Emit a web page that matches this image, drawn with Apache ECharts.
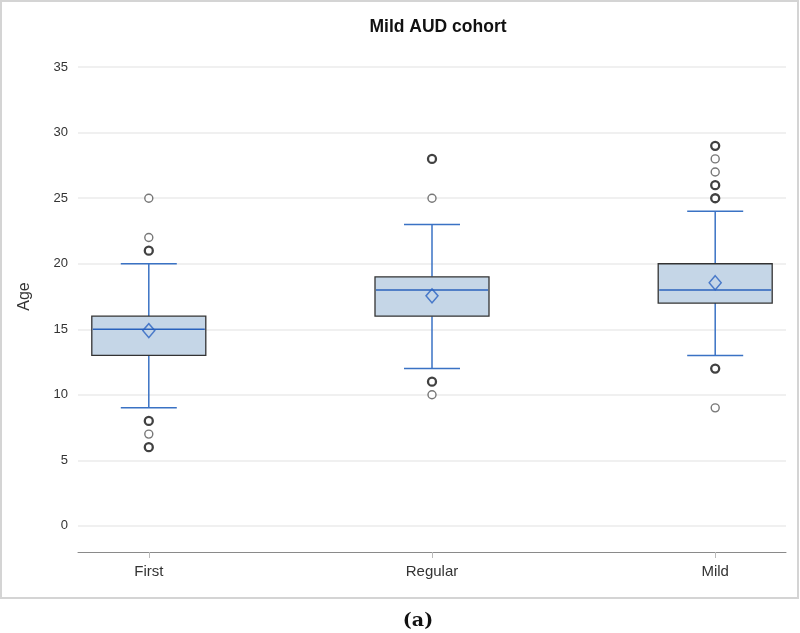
<!DOCTYPE html>
<html>
<head>
<meta charset="utf-8">
<script src="https://cdn.jsdelivr.net/npm/echarts@6/dist/echarts.min.js"></script>
<style>html,body{margin:0;padding:0;background:#fff}#c{width:800px;height:633px}</style>
</head>
<body>
<div id="c"></div>
<script>
const categories = ['First', 'Regular', 'Mild'];
const whiskerLow = [9, 12, 13];
const q1 = [13, 16, 17];
const median = [15, 18, 18];
const q3 = [16, 19, 20];
const whiskerHigh = [20, 23, 24];
const means = [14.9, 17.55, 18.55];
const outlierValues = [[25, 22, 21, 8, 7, 6], [28, 25, 11, 10], [29, 28, 27, 26, 25, 12, 9]];
const outlierRepeated = [[21, 8, 6], [28, 11], [29, 26, 25, 12]];
const yTicks = [0, 5, 10, 15, 20, 25, 30, 35];

const BLUE = '#3a72c4';
const boxData = categories.map((c, i) => [i + 1, whiskerLow[i], q1[i], median[i], q3[i], whiskerHigh[i]]);
const meanData = categories.map((c, i) => [i + 1, means[i]]);
const outSingle = [], outMulti = [];
outlierValues.forEach((arr, i) => arr.forEach(v => {
  (outlierRepeated[i].includes(v) ? outMulti : outSingle).push([i + 1, v]);
}));

const chart = echarts.init(document.getElementById('c'), null, {renderer: 'canvas'});
chart.setOption({
  animation: false,
  backgroundColor: '#fff',
  title: {
    text: 'Mild AUD cohort', left: 433, top: 13, textAlign: 'center',
    textStyle: {fontFamily: 'Liberation Sans, Arial', fontSize: 17.5, fontWeight: 'bold', color: '#111'}
  },
  grid: {left: 78, right: 14, top: 41, bottom: 81},
  xAxis: {
    type: 'value', min: 0.75, max: 3.25,
    axisLine: {show: true, onZero: false, lineStyle: {color: '#8a8a8a', width: 1}},
    axisTick: {show: true, customValues: [1, 2, 3], length: 6, lineStyle: {color: '#bbb'}},
    axisLabel: {customValues: [1, 2, 3], formatter: v => categories[Math.round(v) - 1] || '',
      fontFamily: 'Liberation Sans, Arial', fontSize: 15, color: '#333', margin: 12},
    splitLine: {show: false}
  },
  yAxis: {
    type: 'value', min: -2, max: 37,
    name: 'Age', nameLocation: 'middle', nameGap: 45,
    nameTextStyle: {fontFamily: 'Liberation Sans, Arial', fontSize: 16, color: '#333'},
    axisLine: {show: false}, axisTick: {show: false, customValues: yTicks},
    axisLabel: {customValues: yTicks,
      fontFamily: 'Liberation Sans, Arial', fontSize: 13, color: '#333', margin: 10},
    splitLine: {show: false}
  },
  graphic: [
    {type: 'rect', shape: {x: 1, y: 1, width: 797, height: 597}, style: {fill: 'none', stroke: '#d4d4d4', lineWidth: 2}, z: 100},
    {type: 'text', x: 418, y: 621, style: {text: '(a)', align: 'center', verticalAlign: 'middle',
      font: 'bold 19px "DejaVu Serif", "Liberation Serif", serif', fill: '#111'}}
  ],
  series: [
    {
      type: 'line', data: [], z: 0, silent: true,
      markLine: {
        silent: true, symbol: 'none', z: 0, label: {show: false},
        lineStyle: {color: '#ebebeb', width: 1.5, type: 'solid'},
        emphasis: {disabled: true},
        data: yTicks.map(v => ({yAxis: v}))
      }
    },
    {
      type: 'custom',
      data: boxData,
      encode: {x: 0, y: [1, 2, 3, 4, 5]},
      renderItem: function (params, api) {
        const x = api.value(0);
        const pLow = api.coord([x, api.value(1)]);
        const pQ1 = api.coord([x, api.value(2)]);
        const pMed = api.coord([x, api.value(3)]);
        const pQ3 = api.coord([x, api.value(4)]);
        const pHigh = api.coord([x, api.value(5)]);
        const cx = pLow[0], bw = 114, cw = 56;
        const ls = {stroke: BLUE, lineWidth: 1.5};
        return {
          type: 'group',
          children: [
            {type: 'line', shape: {x1: cx, y1: pLow[1], x2: cx, y2: pQ1[1]}, style: ls},
            {type: 'line', shape: {x1: cx, y1: pQ3[1], x2: cx, y2: pHigh[1]}, style: ls},
            {type: 'line', shape: {x1: cx - cw / 2, y1: pLow[1], x2: cx + cw / 2, y2: pLow[1]}, style: ls},
            {type: 'line', shape: {x1: cx - cw / 2, y1: pHigh[1], x2: cx + cw / 2, y2: pHigh[1]}, style: ls},
            {type: 'rect', shape: {x: cx - bw / 2, y: pQ3[1], width: bw, height: pQ1[1] - pQ3[1]},
              style: {fill: '#c5d6e7', stroke: '#333', lineWidth: 1.3}},
            {type: 'line', shape: {x1: cx - bw / 2 + 1, y1: pMed[1], x2: cx + bw / 2 - 1, y2: pMed[1]}, style: {stroke: '#2a62bd', lineWidth: 1.5}}
          ]
        };
      },
      z: 3
    },
    {
      type: 'scatter', data: meanData, symbol: 'diamond', symbolSize: [12, 14],
      itemStyle: {color: 'rgba(0,0,0,0)', borderColor: '#2b63c2', borderWidth: 1.5}, z: 5
    },
    {
      type: 'scatter', data: outSingle, symbol: 'circle', symbolSize: 8,
      itemStyle: {color: '#fff', borderColor: '#555', borderWidth: 1.4}, z: 5
    },
    {
      type: 'scatter', data: outMulti, symbol: 'circle', symbolSize: 8,
      itemStyle: {color: '#fff', borderColor: '#111', borderWidth: 2.3}, z: 5
    }
  ]
});
</script>
</body>
</html>
